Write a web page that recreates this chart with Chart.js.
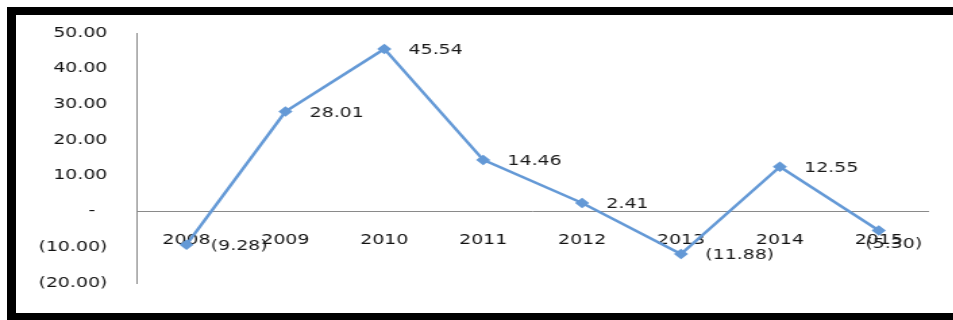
<!DOCTYPE html>
<html>
<head>
<meta charset="utf-8">
<script src="https://cdn.jsdelivr.net/npm/chart.js@4/dist/chart.umd.min.js"></script>
<style>
    html, body { margin: 0; padding: 0; background: #fff; overflow: hidden; }
    body { width: 953px; height: 320px; position: relative; }
    .bar { position: absolute; background: #000; }
    #bar-top { left: 7px; top: 7px; width: 946px; height: 8px; }
    #bar-left { left: 7px; top: 7px; width: 9px; height: 313px; }
    #bar-bottom { left: 7px; top: 313px; width: 946px; height: 7px; }
    #chart { position: absolute; left: 0; top: 0; }
</style>
</head>
<body>
<!-- the reference is stretched sideways: draw 705 wide, show 952 wide -->
<canvas id="chart" width="705" height="320" style="width:952px;height:320px"></canvas>
<div class="bar" id="bar-top"></div>
<div class="bar" id="bar-left"></div>
<div class="bar" id="bar-bottom"></div>
<script>
(function () {
    'use strict';

    const years = ['2008', '2009', '2010', '2011', '2012', '2013', '2014', '2015'];
    const growth = [-9.28, 28.01, 45.54, 14.46, 2.41, -11.88, 12.55, -5.30];
    const yTicks = { min: -20, max: 50, step: 10 };

    const FONT = { family: '"DejaVu Sans", Verdana, sans-serif', size: 14 };

    function fmt(v) {
        if (v === 0) return '-  ';
        return v < 0 ? '(' + Math.abs(v).toFixed(2) + ')' : v.toFixed(2);
    }

    // labels to the right of each point, like the spreadsheet original
    const pointLabels = {
        id: 'pointLabels',
        afterDatasetsDraw(chart) {
            const ctx = chart.ctx;
            const area = chart.chartArea;
            const meta = chart.getDatasetMeta(0);
            ctx.save();
            ctx.font = FONT.size + 'px ' + FONT.family;
            ctx.fillStyle = '#1a1a1a';
            ctx.textBaseline = 'middle';
            ctx.textAlign = 'left';
            meta.data.forEach((pt, i) => {
                const txt = fmt(growth[i]);
                const w = ctx.measureText(txt).width;
                let x = pt.x + 18, y = pt.y + 1.5;
                if (x + w > area.right) { x = pt.x - 10; y = pt.y + 14; }
                ctx.fillText(txt, x, y);
            });
            ctx.restore();
        }
    };

    new Chart(document.getElementById('chart'), {
        type: 'line',
        data: {
            labels: years,
            datasets: [{
                data: growth,
                borderColor: '#6499d6',
                backgroundColor: '#6499d6',
                borderWidth: 2.5,
                pointStyle: 'rectRot',
                pointRadius: 3.5,
                pointHoverRadius: 3.5,
                tension: 0
            }]
        },
        options: {
            responsive: false,
            animation: false,
            layout: { padding: { left: 0, right: 17.6, top: 33, bottom: 37 } },
            plugins: { legend: { display: false }, tooltip: { enabled: false } },
            scales: {
                x: {
                    type: 'category',
                    offset: true,
                    position: { y: 0 },
                    grid: { display: false, drawTicks: false },
                    border: { display: true, color: '#8a8a8a', width: 1 },
                    ticks: { color: '#111', font: FONT, padding: 20, autoSkip: false, maxRotation: 0 }
                },
                y: {
                    min: yTicks.min,
                    max: yTicks.max,
                    grid: { display: false, drawTicks: false },
                    border: { display: true, color: '#8a8a8a', width: 1 },
                    ticks: { stepSize: yTicks.step, color: '#111', font: FONT, padding: 22, callback: v => fmt(v) },
                    afterFit(scale) { scale.width = 101.5; }
                }
            }
        },
        plugins: [pointLabels]
    });
})();
</script>
</body>
</html>
